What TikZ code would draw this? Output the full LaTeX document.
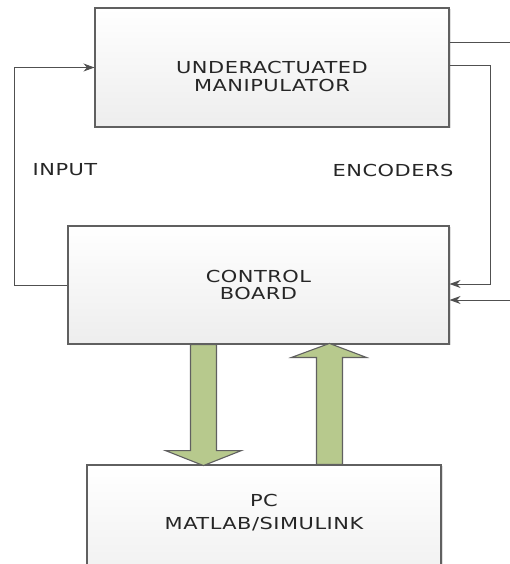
\documentclass[tikz,border=0pt]{standalone}
\usepackage{fontspec}
\setmainfont{DejaVu Sans}[FakeStretch=1.27,LetterSpace=3]
\usetikzlibrary{arrows.meta,calc,positioning,shadows}
\definecolor{boxline}{RGB}{96,96,96}
\definecolor{wirecolor}{RGB}{80,80,80}
\definecolor{arrowgreen}{RGB}{183,201,141}
\tikzstyle{block}=[draw=boxline, line width=1.1pt, top color=white, bottom color=black!7, inner sep=0pt,
  drop shadow={shadow xshift=2pt, shadow yshift=-1pt, opacity=0.2, fill=black!60}]
\tikzstyle{blocktext}=[align=center, inner sep=0pt, font=\fontsize{16.5}{17.5}\selectfont, text=black!85]
\tikzstyle{sigedge}=[wirecolor, line width=0.9pt]
\tikzstyle{sigarrow}=[sigedge, -{Stealth[length=11pt,width=8pt]}]
\tikzstyle{bigarrow}=[draw=boxline, line width=1.1pt, fill=arrowgreen, line join=miter]

\begin{document}
\begin{tikzpicture}[x=1pt,y=-1pt]
\clip (0,0) rectangle (510,564);

	% Blocks
    \node[block, minimum width=354pt, minimum height=119pt] (manip) at (272,67.5) {};
    \node[block, minimum width=381pt, minimum height=118pt] (ctrl) at (258.5,285) {};
    \node[block, minimum width=354pt, minimum height=135pt] (pc) at (264,532.5) {};

    \node[blocktext] (manip-text) at ($(manip.center)+(0,9)$) {UNDERACTUATED\\MANIPULATOR};
    \node[blocktext] (ctrl-text) at (ctrl.center) {CONTROL\\BOARD};
    \node[blocktext] (pc-text) at ($(pc.north)+(0,48)$) {PC\\[5pt]MATLAB/SIMULINK};

    \node[blocktext] (input-text) at (65,170) {INPUT};
    \node[blocktext] (enc-text) at (393,170) {ENCODERS};

	% Board -> manipulator
    \coordinate (in-low) at (14,285);
    \draw[sigarrow] (ctrl.west) -- (in-low) -- (in-low |- manip.west) -- (manip.west);

	% Manipulator -> board
    \coordinate (out-end) at (510,42);
    \draw[sigedge] (manip.east |- out-end) -- (out-end);
    \coordinate (enc-turn) at (490,65);
    \coordinate (enc-in) at ($(ctrl.east)+(0,-1)$);
    \draw[sigarrow] (manip.east |- enc-turn) -- (enc-turn) -- (enc-turn |- enc-in) -- (enc-in);
    \coordinate (ext-start) at (510,300);
    \draw[sigarrow] (ext-start) -- (ctrl.east |- ext-start);

	% Board <-> PC
    \draw[bigarrow] ($(ctrl.south west)+(123,0)$) -- ++(26,0) -- ++(0,106) -- ++(25,0) -- ++(-38,15) -- ++(-38,-15) -- ++(25,0) -- cycle;
    \draw[bigarrow] ($(pc.north west)+(230,0)$) -- ++(0,-107) -- ++(-25,0) -- ++(38,-14) -- ++(37,14) -- ++(-24,0) -- ++(0,107) -- cycle;

\end{tikzpicture}
\end{document}
